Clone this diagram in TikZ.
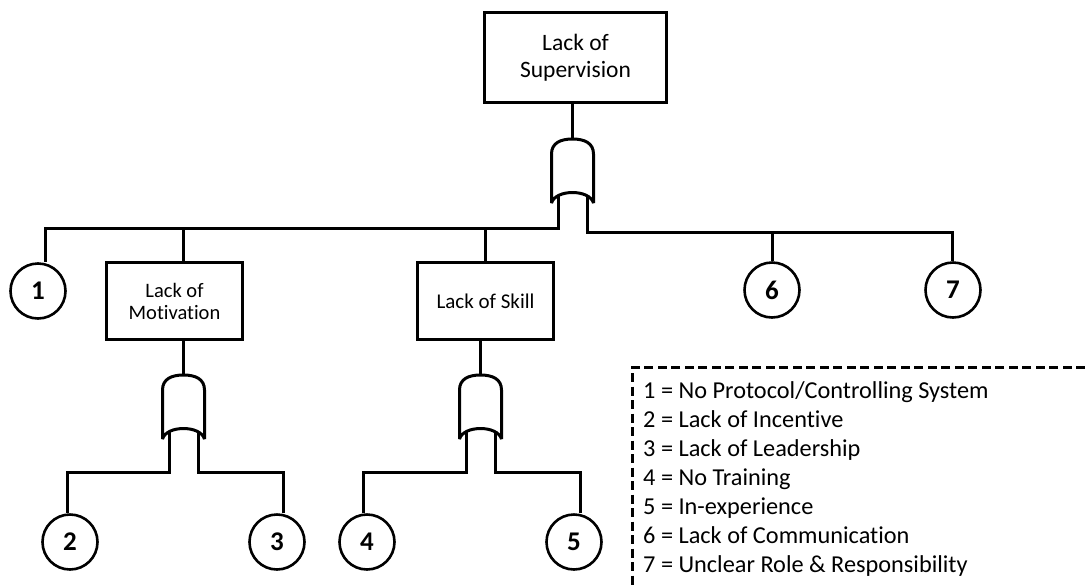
\documentclass[tikz,border=0pt]{standalone}
\usepackage{fontspec}
\setmainfont{Carlito}[Ligatures={NoCommon,NoDiscretionary,NoContextual}]
\begin{document}
\begin{tikzpicture}[x=1pt,y=-1pt,
  wire/.style={line width=3pt},
  evbox/.style={draw, line width=3pt, align=center, inner sep=0pt},
  basic/.style={circle, draw, line width=2.6pt, minimum size=55pt, inner sep=0pt,
    font=\fontsize{27}{27}\selectfont\bfseries},
  keytext/.style={anchor=base west, inner sep=0pt, font=\fontsize{24.3}{29}\selectfont},
  keyframe/.style={line width=3pt, dash pattern=on 9pt off 4.5pt},
  orgate/.pic={
    \draw[wire, miter limit=3] (-21,64) -- (-21,15) .. controls (-21,4) and (-12,0) .. (0,0)
      .. controls (12,0) and (21,4) .. (21,15) -- (21,64)
      .. controls (17,50) and (-17,50) .. cycle;
    \coordinate (-top) at (0,0);
    \coordinate (-l) at (-14.5,57);
    \coordinate (-r) at (14.5,57);
  }]
\useasboundingbox (0,0) rectangle (1085,587);

% events
\node[evbox, minimum width=182pt, minimum height=90pt,
  font=\fontsize{23.5}{26.5}\selectfont] (sup) at (575.5,57.5) {Lack of\\Supervision};
\node[evbox, minimum width=136pt, minimum height=77pt,
  font=\fontsize{20.5}{22}\selectfont] (mot) at (174.5,301) {Lack of\\Motivation};
\node[evbox, minimum width=136pt, minimum height=77pt,
  font=\fontsize{21}{24}\selectfont] (skl) at (485.5,301) {Lack of Skill};

% basic causes
\node[basic] (c1) at (38,291) {1};
\node[basic] (c6) at (772,290) {6};
\node[basic] (c7) at (953,290) {7};
\node[basic] (c2) at (70,542) {2};
\node[basic] (c3) at (277,542) {3};
\node[basic] (c4) at (367,542) {4};
\node[basic] (c5) at (574,542) {5};

% gates
\pic (g1) at (572.5,139) {orgate};
\pic (gm) at (183.5,375) {orgate};
\pic (gs) at (480.5,375) {orgate};

% bus corners
\coordinate (bl) at (45,228);
\coordinate (br) at (952,232);
\coordinate (m2) at (67,472);
\coordinate (m3) at (283,472);
\coordinate (s4) at (363,472);
\coordinate (s5) at (580,472);

% top level
\draw[wire] (sup.south -| g1-top) -- (g1-top);
\draw[wire] (g1-l) |- (bl) -- (bl |- c1.north);
\draw[wire] (gm-top |- bl) -- (gm-top |- mot.north);
\draw[wire] (skl.north |- bl) -- (skl.north);
\draw[wire] (g1-r) |- (br) -- (br |- c7.north);
\draw[wire] (c6.north |- br) -- (c6.north);

% motivation branch
\draw[wire] (gm-top |- mot.south) -- (gm-top);
\draw[wire] (gm-l) |- (m2) -- (m2 |- c2.north);
\draw[wire] (gm-r) |- (m3) -- (m3 |- c3.north);

% skill branch
\draw[wire] (gs-top |- skl.south) -- (gs-top);
\draw[wire] (gs-l) |- (s4) -- (s4 |- c4.north);
\draw[wire] (gs-r) |- (s5) -- (s5 |- c5.north);

% key
\coordinate (kf1) at (1085,367);
\coordinate (kf2) at (632,367);
\coordinate (kf3) at (632,587);
\draw[keyframe] (kf1) -- (kf2) -- (kf3);
\node[keytext] (k1) at (643,398.3) {1 = No Protocol/Controlling System};
\node[keytext] (k2) at (643,427.4) {2 = Lack of Incentive};
\node[keytext] (k3) at (643,456.4) {3 = Lack of Leadership};
\node[keytext] (k4) at (643,485.5) {4 = No Training};
\node[keytext] (k5) at (643,514.6) {5 = In-experience};
\node[keytext] (k6) at (643,543.6) {6 = Lack of Communication};
\node[keytext] (k7) at (643,572.7) {7 = Unclear Role \& Responsibility};
\end{tikzpicture}
\end{document}
